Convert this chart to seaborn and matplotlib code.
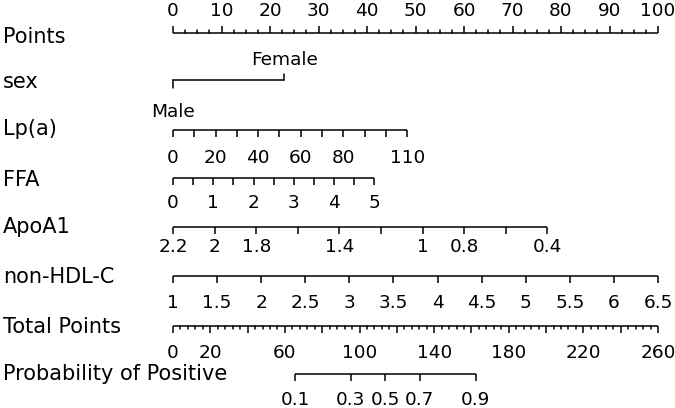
import numpy as np
import pandas as pd
import matplotlib
matplotlib.use("Agg")
import matplotlib.pyplot as plt
import seaborn as sns

# ---------------------------------------------------------------
# Nomogram data
# ---------------------------------------------------------------
ROW_LABELS = ["Points", "sex", "Lp(a)", "FFA", "ApoA1", "non-HDL-C",
              "Total Points", "Probability of Positive"]

POINT_TICKS = np.arange(0, 101, 10)
SEX_LEVELS = ["Male", "Female"]
SEX_POINTS = [0, 22.9]

LPA_TICKS = np.arange(0, 111, 10)
LPA_LABELS = [0, 20, 40, 60, 80, 110]
LPA_MAX_POINTS = 48.3

FFA_TICKS = np.arange(0, 5.01, 0.5)
FFA_LABELS = [0, 1, 2, 3, 4, 5]
FFA_MAX_POINTS = 41.5

APOA1_TICKS = np.round(np.arange(2.2, 0.39, -0.2), 1)
APOA1_LABELS = [2.2, 2, 1.8, 1.4, 1, 0.8, 0.4]
APOA1_MAX_POINTS = 77.2

NHDL_TICKS = np.arange(1, 6.51, 0.5)
NHDL_MAX_POINTS = 100.0

TOTAL_TICKS = np.arange(0, 261, 20)
TOTAL_LABELS = [0, 20, 60, 100, 140, 180, 220, 260]
TOTAL_MAX = 260

PROB_LABELS = ["0.1", "0.3", "0.5", "0.7", "0.9"]
PROB_TOTAL_POS = [65.4, 95.3, 113.9, 132.3, 162.3]

# ---------------------------------------------------------------
# layout (pixels, y from top)
# ---------------------------------------------------------------
W, H = 675, 408
X0, X100 = 173, 658
ROW_BASE = {"Points": 43, "sex": 88, "Lp(a)": 135, "FFA": 186, "ApoA1": 233,
            "non-HDL-C": 283, "Total Points": 333, "Probability of Positive": 380}
LINE_Y = {"Points": 33, "sex": 80, "Lp(a)": 130, "FFA": 178, "ApoA1": 227,
          "non-HDL-C": 276, "Total Points": 326, "Probability of Positive": 374}
TICK = 7
LW = 1.1
ROW_FS = 15
TICK_FS = 13.3
INK = "black"

sns.set_theme(style="white")
plt.rcParams["font.family"] = ["DejaVu Sans"]

fig = plt.figure(figsize=(W / 100, H / 100), dpi=100)
ax = fig.add_axes([0, 0, 1, 1])
scale = (X100 - X0) / 100.0
ax.set_xlim(-X0 / scale, (W - X0) / scale)
ax.set_ylim(H, 0)
ax.axis("off")
ytr = ax.get_yaxis_transform()


def scale_line(y, pos, up=False, length=TICK):
    ax.plot([min(pos), max(pos)], [y, y], color=INK, lw=LW, solid_capstyle="butt")
    d = -length if up else length
    for p in pos:
        ax.plot([p, p], [y, y + d], color=INK, lw=LW, solid_capstyle="butt")


def tick_text(pos, labels, base):
    for p, lab in zip(pos, labels):
        ax.text(p, base, str(lab), ha="center", va="baseline", fontsize=TICK_FS, color=INK)


# row labels
for name in ROW_LABELS:
    ax.text(3 / W, ROW_BASE[name], name, transform=ytr, ha="left", va="baseline",
            fontsize=ROW_FS, color=INK)

# Points
y = LINE_Y["Points"]
scale_line(y, POINT_TICKS, up=True)
minor = [v for v in np.arange(0, 100.1, 2.5) if v % 10 != 0]
for p in minor:
    ax.plot([p, p], [y, y - 3], color=INK, lw=LW)
tick_text(POINT_TICKS, POINT_TICKS, 16)

# sex
y = LINE_Y["sex"]
ax.plot(SEX_POINTS, [y, y], color=INK, lw=LW)
ax.plot([SEX_POINTS[0]] * 2, [y, y + 8], color=INK, lw=LW)
ax.plot([SEX_POINTS[1]] * 2, [y, y - 6], color=INK, lw=LW)
ax.text(SEX_POINTS[1], 65, SEX_LEVELS[1], ha="center", va="baseline", fontsize=TICK_FS, color=INK)
ax.text(SEX_POINTS[0], 117, SEX_LEVELS[0], ha="center", va="baseline", fontsize=TICK_FS, color=INK)

# Lp(a)
pos = LPA_TICKS / LPA_TICKS.max() * LPA_MAX_POINTS
scale_line(LINE_Y["Lp(a)"], pos)
tick_text(np.array(LPA_LABELS) / LPA_TICKS.max() * LPA_MAX_POINTS, LPA_LABELS, 163)

# FFA
pos = FFA_TICKS / FFA_TICKS.max() * FFA_MAX_POINTS
scale_line(LINE_Y["FFA"], pos)
tick_text(np.array(FFA_LABELS) / FFA_TICKS.max() * FFA_MAX_POINTS, FFA_LABELS, 208)

# ApoA1 (reversed)
a0, a1 = APOA1_TICKS[0], APOA1_TICKS[-1]
pos = (a0 - APOA1_TICKS) / (a0 - a1) * APOA1_MAX_POINTS
scale_line(LINE_Y["ApoA1"], pos)
tick_text((a0 - np.array(APOA1_LABELS)) / (a0 - a1) * APOA1_MAX_POINTS, APOA1_LABELS, 252)

# non-HDL-C
pos = (NHDL_TICKS - NHDL_TICKS[0]) / (NHDL_TICKS[-1] - NHDL_TICKS[0]) * NHDL_MAX_POINTS
scale_line(LINE_Y["non-HDL-C"], pos)
tick_text(pos, [f"{v:g}" for v in NHDL_TICKS], 308)

# Total Points
y = LINE_Y["Total Points"]
pos = TOTAL_TICKS / TOTAL_MAX * 100
scale_line(y, pos)
minor = [v for v in np.arange(0, 261, 4) if v % 20 != 0]
for v in minor:
    p = v / TOTAL_MAX * 100
    ax.plot([p, p], [y, y + 3], color=INK, lw=LW)
tick_text(np.array(TOTAL_LABELS) / TOTAL_MAX * 100, TOTAL_LABELS, 358)

# Probability
pos = np.array(PROB_TOTAL_POS) / TOTAL_MAX * 100
scale_line(LINE_Y["Probability of Positive"], pos)
tick_text(pos, PROB_LABELS, 405)

fig.savefig("out.png", dpi=100)
